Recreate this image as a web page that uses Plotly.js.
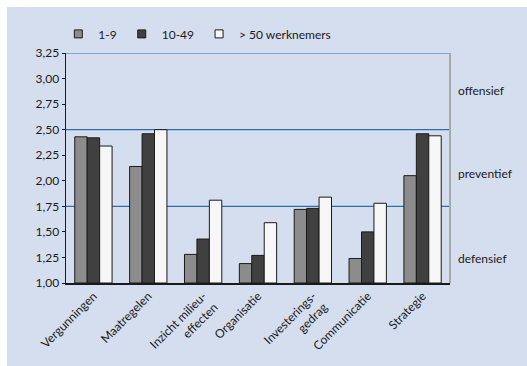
<!DOCTYPE html>
<html><head><meta charset="utf-8">
<script src="https://cdn.plot.ly/plotly-3.0.1.min.js"></script>
<style>
html,body{margin:0;padding:0;background:#ffffff;}
#chart{position:absolute;left:7px;top:7px;width:520px;height:359px;}
</style></head>
<body><div id="chart"></div>
<script>
const categories = ['Vergunningen','Maatregelen','Inzicht milieu-<br>effecten','Organisatie','Investerings-<br>gedrag','Communicatie','Strategie'];
const seriesNames = ['1-9','10-49','> 50 werknemers'];
const small = [2.43, 2.14, 1.28, 1.19, 1.72, 1.24, 2.05];
const medium = [2.42, 2.46, 1.43, 1.27, 1.73, 1.50, 2.46];
const large = [2.34, 2.50, 1.81, 1.59, 1.84, 1.78, 2.44];
const zoneLabels = ['offensief','preventief','defensief'];
const zoneLabelY = [2.88, 2.07, 1.24];
const refLines = [3.25, 2.50, 1.75];
const yTicks = [1.00,1.25,1.50,1.75,2.00,2.25,2.50,2.75,3.00,3.25];

const fills = ['#8c8c8c','#404040','#f7f7f7'];
const seriesData = [small, medium, large];
const traces = seriesData.map((vals,i)=>({
  type:'bar', name:seriesNames[i], x:categories, y:vals.map(v=>v-1), base:1,
  marker:{color:fills[i], line:{color:'#1a1a1a', width:1}},
  hoverinfo:'skip', showlegend:false
}));
seriesNames.forEach((n,i)=>traces.push({
  type:'scatter', mode:'markers', name:n, x:[categories[0]], y:[null],
  marker:{symbol:'square', size:8, color:fills[i], line:{color:'#1a1a1a', width:1}},
  hoverinfo:'skip', showlegend:true
}));

const shapes = refLines.map(v=>({type:'line', xref:'paper', x0:0, x1:1, yref:'y', y0:v, y1:v,
  line:{color:'#2f6fab', width:1.2}, layer:'below'}));
shapes.push({type:'line', xref:'paper', x0:1, x1:1, yref:'y', y0:1, y1:3.25, line:{color:'#a8a8a8', width:2}});

const annotations = zoneLabels.map((t,i)=>({text:t, xref:'paper', x:1, xanchor:'left', xshift:6,
  yref:'y', y:zoneLabelY[i], showarrow:false, font:{size:12, color:'#1a1a1a'}}));

const layout = {
  width:520, height:359,
  margin:{l:59, r:77, t:43, b:83},
  paper_bgcolor:'#d5deef', plot_bgcolor:'#d5deef',
  font:{family:'Lato, "Open Sans", sans-serif', size:12, color:'#1a1a1a'},
  separators:', ',
  barmode:'group', bargap:0.32, bargroupgap:0,
  showlegend:true,
  legend:{orientation:'h', x:-0.02, xanchor:'left', y:1.02, yanchor:'bottom', bgcolor:'rgba(0,0,0,0)', font:{size:12}, itemwidth:30, traceorder:'normal'},
  xaxis:{type:'category', tickangle:-45, showline:true, linecolor:'#1a1a1a', linewidth:1.5, ticks:'', showgrid:false, tickfont:{size:12}, automargin:false},
  yaxis:{range:[1,3.25], tickvals:yTicks, tickformat:'.2f', showline:true, linecolor:'#1a1a1a', linewidth:1.5, ticks:'outside', ticklen:3, tickcolor:'#1a1a1a', showgrid:false, zeroline:false, tickfont:{size:12}, automargin:false},
  shapes:shapes, annotations:annotations
};
Plotly.newPlot('chart', traces, layout, {displayModeBar:false, staticPlot:true});
</script></body></html>
